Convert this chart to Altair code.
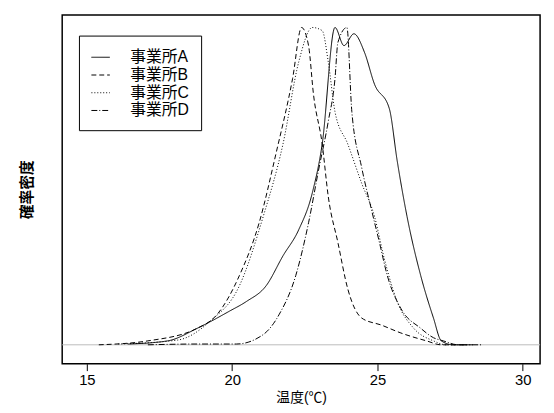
import altair as alt
import pandas as pd

FONT = "Liberation Sans, Noto Sans CJK JP"

names = ["事業所A", "事業所B", "事業所C", "事業所D"]

temp_a = [16.42, 17.78, 18.80, 19.92, 20.49, 21.17, 21.75, 22.29, 22.76, 23.10, 23.54, 23.85, 24.19,
          24.56, 24.90, 25.41, 25.68, 26.02, 26.49, 26.93, 27.20, 27.61, 28.29]
dens_a = [0.001, 0.005, 0.021, 0.043, 0.055, 0.075, 0.113, 0.146, 0.193, 0.255, 0.403, 0.380, 0.395,
          0.371, 0.331, 0.300, 0.234, 0.163, 0.088, 0.034, 0.005, 0.0, 0.0]

temp_b = [15.41, 17.10, 18.80, 19.47, 20.25, 20.93, 21.51, 22.08, 22.39, 22.63, 22.80, 23.10, 23.31,
          23.64, 23.98, 24.46, 25.14, 25.81, 26.69, 27.20, 27.95]
dens_b = [0.0, 0.005, 0.021, 0.038, 0.088, 0.155, 0.243, 0.338, 0.403, 0.380, 0.318, 0.255, 0.188,
          0.130, 0.071, 0.034, 0.025, 0.015, 0.005, 0.0, 0.0]

temp_c = [16.08, 18.12, 19.24, 20.25, 21.07, 21.75, 22.29, 22.76, 23.10, 23.31, 23.54, 23.98, 24.46,
          24.90, 25.24, 25.68, 26.25, 26.93, 27.37, 28.12]
dens_c = [0.001, 0.006, 0.030, 0.075, 0.163, 0.255, 0.359, 0.403, 0.399, 0.359, 0.296, 0.255, 0.205,
          0.163, 0.109, 0.055, 0.021, 0.005, 0.0, 0.0]

temp_d = [17.10, 18.80, 20.15, 21.07, 21.61, 22.19, 22.63, 22.97, 23.31, 23.54, 23.64, 23.95, 24.12,
          24.46, 24.80, 25.07, 25.34, 25.81, 26.49, 26.93, 27.27, 27.78, 28.63]
dens_d = [0.0, 0.001, 0.001, 0.013, 0.038, 0.088, 0.155, 0.221, 0.284, 0.338, 0.384, 0.403, 0.296,
          0.225, 0.171, 0.130, 0.088, 0.046, 0.021, 0.009, 0.005, 0.0, 0.0]

rows = []
for name, ts, ds in zip(names, [temp_a, temp_b, temp_c, temp_d], [dens_a, dens_b, dens_c, dens_d]):
    for i, (t, d) in enumerate(zip(ts, ds)):
        rows.append({"site": name, "temp": t, "dens": d, "order": i})
df = pd.DataFrame(rows)

x_scale = alt.Scale(domain=[14.15, 30.6], nice=False, zero=False)
y_scale = alt.Scale(domain=[-0.024, 0.419], nice=False, zero=False)

base_rule = alt.Chart(pd.DataFrame({"y": [0]})).mark_rule(color="#bbbbbb", strokeWidth=1).encode(
    y=alt.Y("y:Q", scale=y_scale)
)

lines = alt.Chart(df).mark_line(color="black", strokeWidth=1, interpolate="monotone").encode(
    x=alt.X("temp:Q", scale=x_scale, title="温度(℃)",
            axis=alt.Axis(values=[15, 20, 25, 30], grid=False, tickSize=7, labelFontSize=15,
                          titleFontSize=14, titleFontWeight="normal", titlePadding=3,
                          domain=False, labelColor="black", titleColor="black", tickColor="black")),
    y=alt.Y("dens:Q", scale=y_scale, title="確率密度",
            axis=alt.Axis(ticks=False, labels=False, grid=False, domain=False, titleFontSize=15,
                          titleFontWeight="bold", titlePadding=28, titleColor="black")),
    strokeDash=alt.StrokeDash("site:N", sort=names,
                              scale=alt.Scale(domain=names, range=[[1, 0], [5, 3], [1, 2], [6, 2, 1, 2]]),
                              legend=alt.Legend(title=None, orient="none", legendX=17, legendY=21,
                                                labelFontSize=16, symbolType="stroke", symbolSize=350,
                                                symbolStrokeColor="black", symbolStrokeWidth=1,
                                                strokeColor="black", padding=12, rowPadding=-1,
                                                labelColor="black", labelOffset=20)),
    order="order:Q",
)

chart = (base_rule + lines).properties(
    width=485, height=354, background="white",
    autosize=alt.AutoSizeParams(type="none"),
    padding={"left": 55, "top": 4, "right": 6, "bottom": 45},
).configure(font=FONT).configure_view(stroke="black", strokeWidth=1.5)

chart.save("out.html", embed_options={"renderer": "svg", "actions": False})
